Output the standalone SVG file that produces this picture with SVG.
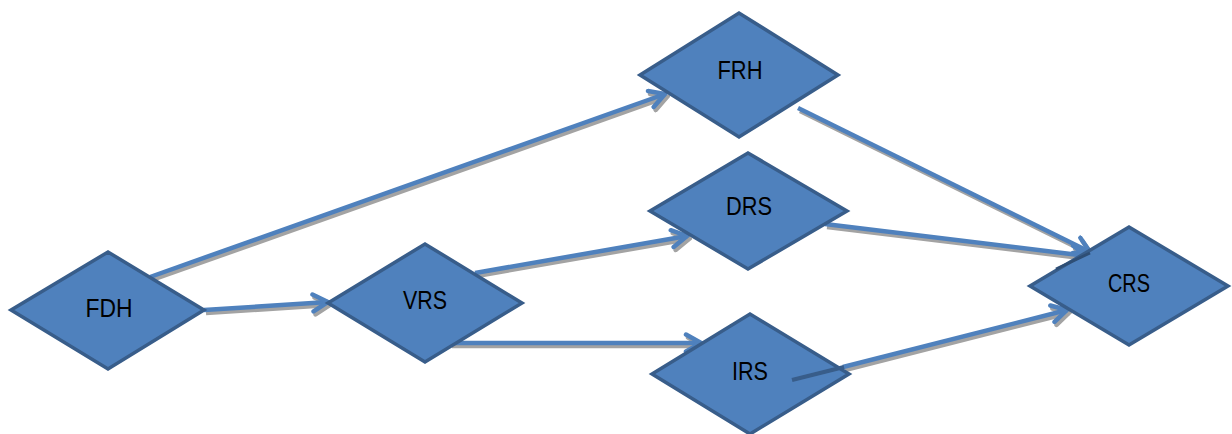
<svg xmlns="http://www.w3.org/2000/svg" width="1232" height="434" viewBox="0 0 1232 434">
<defs>
<style>
.node{fill:#4F81BD;stroke:#385D8A;stroke-width:3.5;stroke-linejoin:miter}
.lbl{font-family:"Liberation Sans",Arial,sans-serif;font-size:25px;fill:#000;text-anchor:middle}
.edge{fill:none;stroke:#4F81BD;stroke-width:4.5;marker-end:url(#ah)}
.shadow{fill:none;stroke:#A3A3A3;stroke-width:4.5;marker-end:url(#ahs)}
</style>
<marker id="ah" viewBox="0 0 22 22" refX="19" refY="11" markerWidth="22" markerHeight="22" markerUnits="userSpaceOnUse" orient="auto">
<path d="M4,2.5 L19,11 L4,19.5" fill="none" stroke="#4F81BD" stroke-width="4.5" stroke-linecap="round" stroke-linejoin="miter"/>
</marker>
<marker id="ahs" viewBox="0 0 22 22" refX="19" refY="11" markerWidth="22" markerHeight="22" markerUnits="userSpaceOnUse" orient="auto">
<path d="M4,2.5 L19,11 L4,19.5" fill="none" stroke="#A3A3A3" stroke-width="4.5" stroke-linecap="round" stroke-linejoin="miter"/>
</marker>
</defs>
<rect width="1232" height="434" fill="#fff"/>
<g id="connectors">
<g id="shadows" transform="translate(2,3)">
<line class="shadow" x1="150" y1="277" x2="665" y2="94"/>
<line class="shadow" x1="204" y1="310" x2="328" y2="302"/>
<line class="shadow" x1="475" y1="273" x2="687" y2="236"/>
<line class="shadow" x1="450" y1="343" x2="701" y2="343"/>
<line class="shadow" x1="798" y1="108" x2="1090" y2="252"/>
<line class="shadow" x1="825" y1="224" x2="1087" y2="256"/>
<line class="shadow" x1="843" y1="367" x2="1067" y2="310"/>
</g>
<line class="edge" x1="150" y1="277" x2="665" y2="94"/>
<line class="edge" x1="204" y1="310" x2="328" y2="302"/>
<line class="edge" x1="475" y1="273" x2="687" y2="236"/>
<line class="edge" x1="450" y1="343" x2="701" y2="343"/>
<line class="edge" x1="798" y1="108" x2="1090" y2="252"/>
<line class="edge" x1="825" y1="224" x2="1087" y2="256"/>
<line class="edge" x1="843" y1="367" x2="1067" y2="310"/>
</g>
<g id="FDH"><polygon class="node" points="11,310 108,252 204,310 108,369"/><text class="lbl" x="109" y="317" textLength="47" lengthAdjust="spacingAndGlyphs">FDH</text></g>
<g id="VRS"><polygon class="node" points="328,303 425,244 522,303 425,362"/><text class="lbl" x="425" y="309" textLength="44" lengthAdjust="spacingAndGlyphs">VRS</text></g>
<g id="FRH"><polygon class="node" points="640,75 739,13 838,75 739,137"/><text class="lbl" x="740" y="79" textLength="45" lengthAdjust="spacingAndGlyphs">FRH</text></g>
<g id="DRS"><polygon class="node" points="650,211 748,153 847,211 748,269"/><text class="lbl" x="749" y="215" textLength="46" lengthAdjust="spacingAndGlyphs">DRS</text></g>
<g id="IRS"><polygon class="node" points="652,374 750,314 849,374 750,434"/><text class="lbl" x="750" y="380" textLength="36" lengthAdjust="spacingAndGlyphs">IRS</text></g>
<g id="CRS"><polygon class="node" points="1030,286 1129,227 1228,286 1129,345"/><text class="lbl" x="1129" y="292" textLength="42" lengthAdjust="spacingAndGlyphs">CRS</text></g>
<g id="overlaps">
<line x1="792" y1="380" x2="844" y2="367" stroke="#385D8A" stroke-width="4"/>
<line x1="1056" y1="269" x2="1090" y2="253" stroke="#2E4E75" stroke-width="3"/>
</g>
</svg>
